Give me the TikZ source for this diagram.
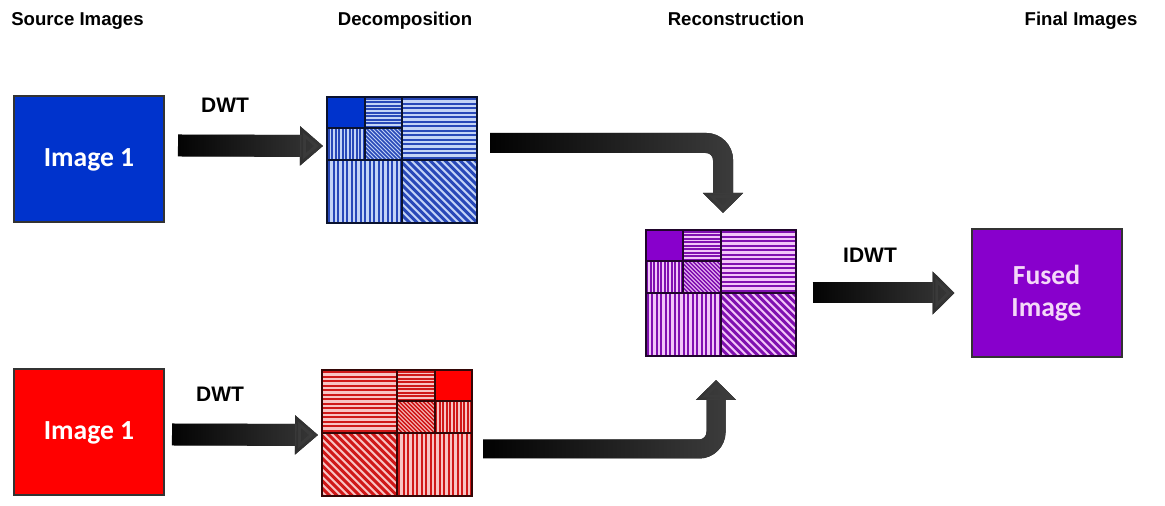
\documentclass[tikz,border=0pt]{standalone}
\usepackage{fontspec}
\setmainfont{Liberation Sans}
\newfontfamily\calfont{Carlito}
\usetikzlibrary{positioning,arrows.meta,fadings}

\definecolor{imgblue}{HTML}{0033CC}
\definecolor{blueband}{HTML}{C4D4F6}
\definecolor{blueline}{HTML}{2848B8}
\definecolor{imgred}{HTML}{FF0000}
\definecolor{redband}{HTML}{F8C4C4}
\definecolor{redline}{HTML}{D01818}
\definecolor{imgpurple}{HTML}{8800CC}
\definecolor{purpleband}{HTML}{F2C6F8}
\definecolor{purpleline}{HTML}{8010B0}
\definecolor{arrowgray}{HTML}{3C3C3C}
\definecolor{fusedtext}{HTML}{F4D8F8}

\tikzfading[name=tohead, left color=transparent!100, middle color=transparent!100, right color=transparent!0]

% striped sub-bands: x0, y0, x1, y1, gap
\newcommand{\hband}[5]{\begin{scope}
  \clip (#1,#2) rectangle (#3,#4);
  \fill[bandbg] (#1,#2) rectangle (#3,#4);
  \foreach \k in {0,...,40} \draw[bandline,line width={#5*0.25pt}] (#1,#2+0.5*#5+\k*#5) -- (#3,#2+0.5*#5+\k*#5);
\end{scope}}
\newcommand{\vband}[5]{\begin{scope}
  \clip (#1,#2) rectangle (#3,#4);
  \fill[bandbg] (#1,#2) rectangle (#3,#4);
  \foreach \k in {0,...,40} \draw[bandline,line width={#5*0.25pt}] (#1+0.5*#5+\k*#5,#2) -- (#1+0.5*#5+\k*#5,#4);
\end{scope}}
\newcommand{\dband}[5]{\begin{scope}
  \clip (#1,#2) rectangle (#3,#4);
  \fill[bandbg] (#1,#2) rectangle (#3,#4);
  \foreach \k in {0,...,45} \draw[bandline,line width={#5*0.2pt}] (#1-70+\k*#5,#4) -- ++(70,-70);
\end{scope}}

% two-level layouts, local units 150 x 126
\newcommand{\gridA}{%
  \fill[solid] (0,94.5) rectangle (37.5,126);
  \hband{37.5}{94.5}{75}{126}{3.5}
  \vband{0}{63}{37.5}{94.5}{3.5}
  \dband{37.5}{63}{75}{94.5}{4}
  \hband{75}{63}{150}{126}{4.5}
  \vband{0}{0}{75}{63}{4.5}
  \dband{75}{0}{150}{63}{7.5}
  \draw[gridline] (0,0) rectangle (150,126) (75,0) -- (75,126) (0,63) -- (150,63)
    (37.5,63) -- (37.5,126) (0,94.5) -- (75,94.5);}
\newcommand{\gridB}{%
  \hband{0}{63}{75}{126}{4.5}
  \hband{75}{94.5}{112.5}{126}{3.5}
  \fill[solid] (112.5,94.5) rectangle (150,126);
  \dband{75}{63}{112.5}{94.5}{4}
  \vband{112.5}{63}{150}{94.5}{3.5}
  \dband{0}{0}{75}{63}{7.5}
  \vband{75}{0}{150}{63}{4.5}
  \draw[gridline] (0,0) rectangle (150,126) (75,0) -- (75,126) (0,63) -- (150,63)
    (112.5,63) -- (112.5,126) (75,94.5) -- (150,94.5);}

% fat arrow: black body, grey towards the head
\newcommand{\fatarrow}[2]{%
  \draw[#1] #2;
  \draw[#1,draw=arrowgray,path fading=tohead] #2;}

\begin{document}
\begin{tikzpicture}[x=0.5pt,y=0.5pt,
  imgbox/.style={draw=black!80,line width=1pt,minimum width=75pt,minimum height=63pt,inner sep=0pt,outer sep=0pt,align=center,font=\calfont\bfseries\fontsize{13.8}{16}\selectfont},
  wavebox/.style={minimum width=75pt,minimum height=63pt,inner sep=0pt,outer sep=0pt},
  title/.style={anchor=base,font=\bfseries\fontsize{9.3}{11}\selectfont},
  steplabel/.style={anchor=base,font=\bfseries\fontsize{10.5}{12}\selectfont}
]
\useasboundingbox (0,0) rectangle (1165,506);

% titles
\node[title] (tsrc) at (77.5,480) {Source Images};
\node[title] (tdec) at (405,480) {Decomposition};
\node[title] (trec) at (736,480) {Reconstruction};
\node[title] (tfin) at (1081,480) {Final Images};

% source and fused images
\node[imgbox,fill=imgblue,text=white] (img1) at (89,346.5) {Image 1};
\node[imgbox,fill=imgred,text=white,below=73.5pt of img1] (img2) {Image 1};
\node[wavebox] (dwtA) at (402,346) {};
\node[wavebox] (dwtB) at (397,73) {};
\node[wavebox] (rec) at (720.5,213) {};
\node[imgbox,fill=imgpurple,text=fusedtext,minimum height=64pt,right=88pt of rec] (fused) {Fused\\Image};

% decompositions
\begin{scope}[shift={(dwtA.south west)},bandbg/.style={fill=blueband},bandline/.style={draw=blueline},
  solid/.style={fill=imgblue},gridline/.style={draw=blueline!25!black,line width=1pt}]
\gridA
\end{scope}
\begin{scope}[shift={(dwtB.south west)},bandbg/.style={fill=redband},bandline/.style={draw=redline},
  solid/.style={fill=imgred},gridline/.style={draw=redline!25!black,line width=1pt}]
\gridB
\end{scope}
\begin{scope}[shift={(rec.south west)},bandbg/.style={fill=purpleband},bandline/.style={draw=purpleline},
  solid/.style={fill=imgpurple},gridline/.style={draw=purpleline!25!black,line width=1pt}]
\gridA
\end{scope}

% arrows
\fatarrow{line width=11pt,-{Triangle[width=19pt,length=11.5pt]}}{([shift={(14,14)}]img1.east) -- ([shift={(-4,14)}]dwtA.west)}
\fatarrow{line width=11pt,-{Triangle[width=19pt,length=11.5pt]}}{([shift={(8,-2)}]img2.east) -- ([shift={(-4,-2)}]dwtB.west)}
\fatarrow{line width=10.5pt,-{Triangle[width=21pt,length=11pt]}}{([shift={(17,0)}]rec.east) -- ([shift={(-17,0)}]fused.west)}
\fatarrow{line width=10pt,rounded corners=8.5pt,-{Triangle[width=19.5pt,length=10pt]}}{([shift={(13,17)}]dwtA.east) -| ([shift={(2.5,17)}]rec.north)}
\fatarrow{line width=9.5pt,rounded corners=8.5pt,-{Triangle[width=19.5pt,length=10pt]}}{([shift={(11,-16)}]dwtB.east) -| ([shift={(-4.5,-24)}]rec.south)}

% arrow labels
\node[steplabel] (l1) at (225,393) {DWT};
\node[steplabel] (l2) at (220,104) {DWT};
\node[steplabel] (l3) at (870,243) {IDWT};
\end{tikzpicture}
\end{document}
